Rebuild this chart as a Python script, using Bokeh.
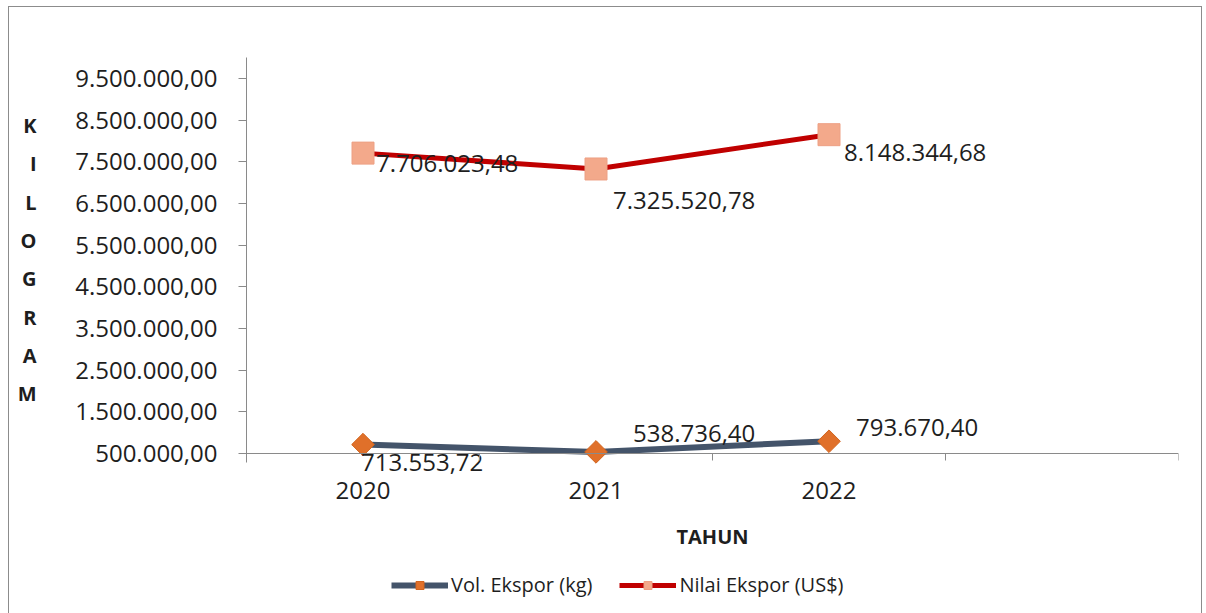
import math
from bokeh.plotting import figure
from bokeh.models import (ColumnDataSource, FixedTicker, Range1d, Legend,
                          LegendItem, LinearAxis, Spacer)
from bokeh.layouts import column, row
from bokeh.core.properties import value
from bokeh.embed import file_html
from bokeh.resources import INLINE

# ---------------- data ----------------
years = ["2020", "2021", "2022"]
vol_ekspor = [713553.72, 538736.40, 793670.40]        # Vol. Ekspor (kg)
nilai_ekspor = [7706023.48, 7325520.78, 8148344.68]   # Nilai Ekspor (US$)
y_ticks = [500000, 1500000, 2500000, 3500000, 4500000,
           5500000, 6500000, 7500000, 8500000, 9500000]
y_axis_letters = ["K", "I", "L", "O", "G", "R", "A", "M"]
x_title = "TAHUN"
vol_name = "Vol. Ekspor (kg)"
nilai_name = "Nilai Ekspor (US$)"


def fmt_id(v):
    s = f"{v:,.2f}"
    return s.replace(",", "#").replace(".", ",").replace("#", ".")


FONT = "Open Sans"
TXT = "#1e1e1e"
AX = "#8a8a8a"

# ---------------- geometry (page pixels) ----------------
FRAME_TOP_PX = 57      # top of value axis (10.000.000)
AXIS_PX = 453          # category axis crosses at 500.000
FRAME_BOTTOM_PX = 613  # plotting area continues down to hold the legend
FRAME_H = FRAME_BOTTOM_PX - FRAME_TOP_PX
Y_TOP = 10000000
Y_CROSS = 500000
px_per_unit = (AXIS_PX - FRAME_TOP_PX) / (Y_TOP - Y_CROSS)
Y_BOTTOM = Y_CROSS - (FRAME_BOTTOM_PX - AXIS_PX) / px_per_unit

# category slots: 3 used categories + 1 empty slot (like the original)
n_slots = 4
xc = [i + 0.5 for i in range(len(years))]
src = ColumnDataSource(dict(x=xc, vol=vol_ekspor, nilai=nilai_ekspor))

p = figure(width=1192, height=606, output_backend="svg", toolbar_location=None,
           x_range=Range1d(0, n_slots), y_range=Range1d(Y_BOTTOM, Y_TOP),
           min_border_left=237, min_border_right=23, min_border_top=50,
           min_border_bottom=0)
p.outline_line_color = None
p.xgrid.visible = False
p.ygrid.visible = False

# x axis (crosses the value axis at 500.000)
p.xaxis.fixed_location = Y_CROSS
p.xaxis.ticker = FixedTicker(ticks=xc, minor_ticks=list(range(n_slots + 1)))
p.xaxis.major_label_overrides = {x: y for x, y in zip(xc, years)}
p.xaxis.major_tick_out = 0
p.xaxis.major_tick_in = 0
p.xaxis.major_tick_line_color = None
p.xaxis.minor_tick_in = 0
p.xaxis.minor_tick_out = 7
p.xaxis.minor_tick_line_color = AX
p.xaxis.axis_line_color = AX
p.xaxis.major_label_text_font = FONT
p.xaxis.major_label_text_font_size = "24px"
p.xaxis.major_label_text_color = TXT
p.xaxis.major_label_standoff = 21
p.xaxis.axis_label = x_title
p.xaxis.axis_label_text_font = FONT
p.xaxis.axis_label_text_font_style = "bold"
p.xaxis.axis_label_text_font_size = "20px"
p.xaxis.axis_label_text_color = TXT
p.xaxis.axis_label_standoff = 21

# y axis
p.yaxis.ticker = FixedTicker(ticks=y_ticks)
p.yaxis.bounds = (Y_CROSS - 9 / px_per_unit, Y_TOP)
p.yaxis.major_label_overrides = {t: fmt_id(t) for t in y_ticks}
p.yaxis.major_tick_out = 8
p.yaxis.major_tick_in = 0
p.yaxis.major_tick_line_color = AX
p.yaxis.minor_tick_line_color = None
p.yaxis.axis_line_color = AX
p.yaxis.major_label_text_font = FONT
p.yaxis.major_label_text_font_size = "24px"
p.yaxis.major_label_text_color = TXT
p.yaxis.major_label_standoff = 21

# vertical, letter-by-letter y title (as in the original) via a bare axis
p.extra_y_ranges = {"letters": Range1d(0, FRAME_H)}
letter_pos = [round((FRAME_BOTTOM_PX - 125) - i * 38.3)
              for i in range(len(y_axis_letters))]
ax_t = LinearAxis(y_range_name="letters",
                  ticker=FixedTicker(ticks=letter_pos, minor_ticks=[]),
                  major_label_overrides={t: s for t, s in
                                         zip(letter_pos, y_axis_letters)})
ax_t.axis_line_color = None
ax_t.major_tick_line_color = None
ax_t.minor_tick_line_color = None
ax_t.major_tick_out = 0
ax_t.major_tick_in = 0
ax_t.major_label_text_font = FONT
ax_t.major_label_text_font_style = "bold"
ax_t.major_label_text_font_size = "20px"
ax_t.major_label_text_color = TXT
ax_t.major_label_text_align = "center"
ax_t.major_label_standoff = 36
p.add_layout(ax_t, "left")

# series
r_nl = p.line("x", "nilai", source=src, line_color="#C00000", line_width=5)
r_ns = p.scatter("x", "nilai", source=src, marker="square", size=22,
                 fill_color="#F3A98B", line_color="#EDA084", line_width=1)
r_vl = p.line("x", "vol", source=src, line_color="#44546A", line_width=6)
r_vs = p.scatter("x", "vol", source=src, marker="square", angle=math.pi / 4,
                 size=16, fill_color="#E0702A", line_color="#D2651F",
                 line_width=1)

# data labels
nilai_dx = [13, 17, 15]
nilai_dy = [10, 32, 18]
vol_dx = [-2, 37, 27]
vol_dy = [18, -18, -14]
lab_src = ColumnDataSource(dict(
    x=xc + xc,
    y=nilai_ekspor + vol_ekspor,
    t=[fmt_id(v) for v in nilai_ekspor] + [fmt_id(v) for v in vol_ekspor],
    dx=nilai_dx + vol_dx,
    dy=nilai_dy + vol_dy,
))
p.text("x", "y", text="t", x_offset="dx", y_offset="dy", source=lab_src,
       text_font=value(FONT), text_font_size="24px", text_color=TXT,
       text_align="left", text_baseline="middle")

legend = Legend(items=[LegendItem(label=vol_name, renderers=[r_vl, r_vs]),
                       LegendItem(label=nilai_name, renderers=[r_nl, r_ns])],
                orientation="horizontal", location=(145, 15),
                glyph_width=57, glyph_height=20, label_standoff=3,
                spacing=27, padding=5, margin=0,
                border_line_color=None, background_fill_alpha=0,
                label_text_font=FONT, label_text_font_size="20px",
                label_text_color=TXT)
p.add_layout(legend)

boxed = column(p, styles={"border-top": "1px solid #8c8c8c",
                          "border-left": "1px solid #8c8c8c",
                          "border-right": "1px solid #8c8c8c"})
layout = column(Spacer(height=6), row(Spacer(width=8), boxed))

open("out.html", "w").write(file_html(layout, INLINE))
